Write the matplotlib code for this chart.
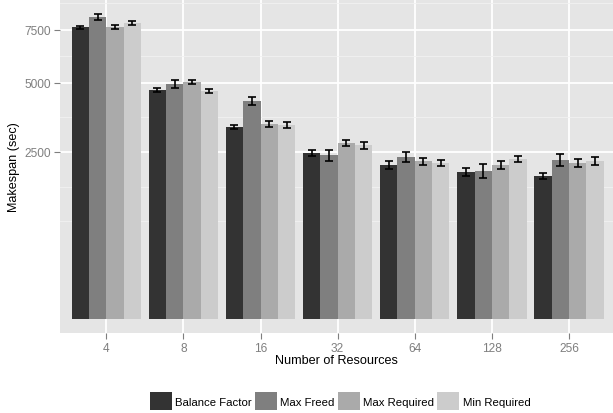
import numpy as np
import matplotlib.pyplot as plt
from matplotlib.patches import Patch
from matplotlib.ticker import FixedLocator

plt.rcParams['font.family'] = ['Liberation Sans', 'DejaVu Sans']

resources = ['4', '8', '16', '32', '64', '128', '256']
series = ['Balance Factor', 'Max Freed', 'Max Required', 'Min Required']
colors = ['#333333', '#7f7f7f', '#aaaaaa', '#cccccc']

balance_factor = [7627, 4701, 3305, 2470, 2126, 1937, 1833]
max_freed = [8176, 4951, 4260, 2411, 2353, 1963, 2266]
max_required = [7627, 5035, 3409, 2777, 2229, 2126, 2181]
min_required = [7854, 4660, 3374, 2714, 2181, 2295, 2238]

balance_factor_err = [89, 90, 79, 95, 116, 100, 77]
max_freed_err = [173, 177, 168, 162, 154, 177, 171]
max_required_err = [94, 98, 98, 95, 105, 110, 120]
min_required_err = [90, 90, 105, 109, 90, 95, 105]

values = [balance_factor, max_freed, max_required, min_required]
errors = [balance_factor_err, max_freed_err, max_required_err, min_required_err]


def fwd(v):
    v = np.asarray(v, dtype=float)
    return np.sign(v) * np.sqrt(np.abs(v))


def inv(s):
    s = np.asarray(s, dtype=float)
    return np.sign(s) * s ** 2


fig = plt.figure(figsize=(6.13, 4.14), dpi=100)
ax = fig.add_axes([60 / 613, 1 - 334 / 414, 553 / 613, 334 / 414])
ax.set_facecolor('#e5e5e5')
ax.set_yscale('function', functions=(fwd, inv))

x = np.arange(1, len(resources) + 1)
w = 0.225
for i, (vals, errs) in enumerate(zip(values, errors)):
    pos = x - 0.45 + w * (i + 0.5)
    ax.bar(pos, vals, width=w, color=colors[i], zorder=3)
    ax.errorbar(pos, vals, yerr=errs, fmt='none', ecolor='black',
                elinewidth=1.2, capsize=2.9, capthick=1.2, zorder=4)

ax.set_xlim(0.4, 7.57)
ax.set_ylim(-17.6, 9178)

major = [2500, 5000, 7500]
minor = [inv(29.3), inv(39.6), inv(60.36), inv(78.66), inv(94.55)]
ax.yaxis.set_major_locator(FixedLocator(major))
ax.yaxis.set_minor_locator(FixedLocator(minor))
ax.set_yticklabels([str(m) for m in major])
ax.set_xticks(x)
ax.set_xticklabels(resources)

ax.grid(True, which='major', color='white', linewidth=1.3, zorder=0)
ax.grid(True, which='minor', axis='y', color='#f2f2f2', linewidth=0.6, zorder=0)
ax.set_axisbelow(True)
for sp in ax.spines.values():
    sp.set_visible(False)

ax.tick_params(axis='both', which='major', colors='#7f7f7f', labelcolor='#7f7f7f',
               labelsize=8.6, length=4.5, width=0.8, pad=2)
ax.tick_params(axis='y', which='minor', length=0)

ax.set_xlabel('Number of Resources', fontsize=9.1, labelpad=0)
ax.set_ylabel('Makespan (sec)', fontsize=9.1, labelpad=3)

handles = [Patch(facecolor=c, edgecolor='none') for c in colors]
fig.legend(handles, series, loc='center', bbox_to_anchor=(340 / 613, 1 - 402 / 414),
           ncol=4, frameon=False, fontsize=8.2, handlelength=1.95, handleheight=2.1,
           handletextpad=0.3, columnspacing=0.25, borderaxespad=0)

fig.savefig('out.png', dpi=100)
